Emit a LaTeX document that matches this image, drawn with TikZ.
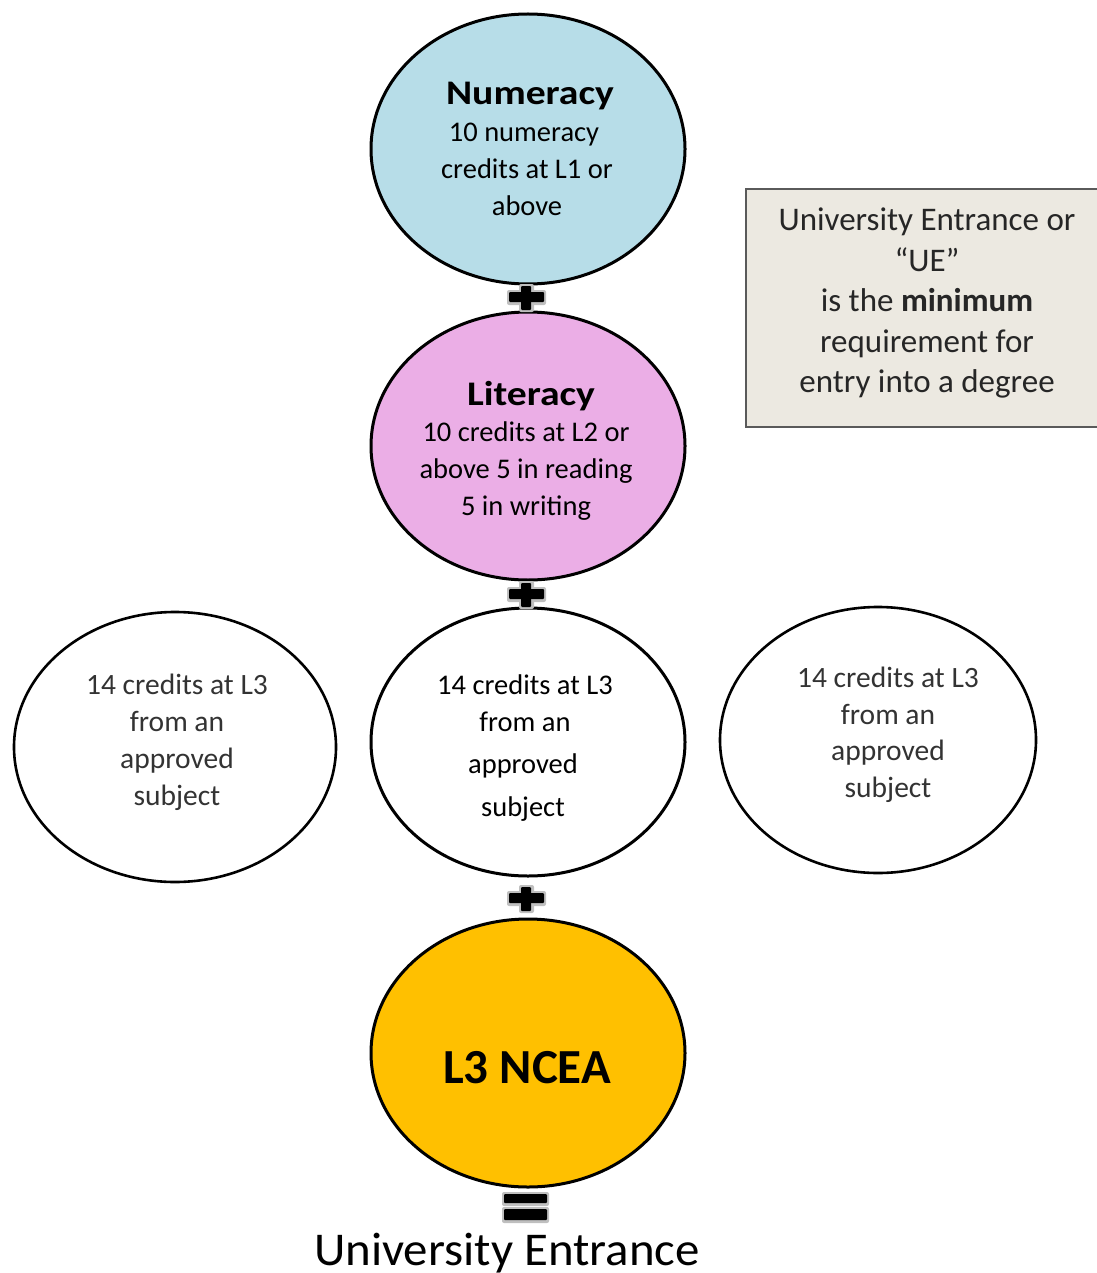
\documentclass[tikz,border=0pt]{standalone}
\usepackage{fontspec}
\setmainfont{Carlito}
\usetikzlibrary{shapes.geometric}
\definecolor{numblue}{HTML}{B7DDE8}
\definecolor{litpink}{HTML}{EBAEE6}
\definecolor{ncgold}{HTML}{FFC000}
\definecolor{boxfill}{HTML}{ECE9E1}
\definecolor{boxline}{HTML}{5A5A5A}
\definecolor{scantext}{HTML}{333333}
\tikzset{
  circ/.style={ellipse, draw=black, line width=3pt, minimum width=314pt, minimum height=268pt, inner sep=0pt},
  body/.style={align=center, font=\fontsize{28.5}{37}\selectfont, inner sep=0pt},
  side/.style={align=center, font=\fontsize{29.5}{37}\selectfont, text=scantext, inner sep=0pt},
  boxtext/.style={align=center, font=\fontsize{33}{40}\selectfont, text=black!85, inner sep=0pt},
  title/.style={inner sep=0pt, xscale=1.15, font=\fontsize{34.5}{40}\selectfont\bfseries},
  bar/.style={fill=black, rounded corners=1pt},
  barshadow/.style={fill=black!25, rounded corners=2pt}
}
\newcommand{\plussign}[2]{%
  \fill[barshadow] (#1-19,#2-7) rectangle (#1+20,#2+8);
  \fill[barshadow] (#1-7,#2-13) rectangle (#1+8,#2+15);
  \fill[bar] (#1-17,#2-5) rectangle (#1+18,#2+5);
  \fill[bar] (#1-5,#2-11) rectangle (#1+5,#2+13);
}
\begin{document}
\begin{tikzpicture}[x=1pt,y=-1pt]
\useasboundingbox (0,0) rectangle (1096,1273);
% ellipses
\node[circ, fill=numblue, minimum height=270pt] (num) at (528,149) {};
\node[circ, fill=litpink] (lit) at (528,446) {};
\node[circ, fill=white] (mid) at (528,742) {};
\node[circ, fill=white, minimum width=322pt, minimum height=270pt, line width=2.6pt] (left) at (175,747) {};
\node[circ, fill=white, minimum width=316pt, minimum height=266pt, line width=2.6pt] (right) at (878,740) {};
\node[circ, fill=ncgold] (ncea) at (528,1053) {};
% texts
\node[title, anchor=base] (numt) at (530,105) {Numeracy};
\node[body, anchor=base] (num1) at (524,142) {10 numeracy};
\node[body, anchor=base] (num2) at (527,179) {credits at L1 or};
\node[body, anchor=base] (num3) at (527,216) {above};
\node[title, anchor=base] (litt) at (531,405) {Literacy};
\node[body, anchor=base] (lit1) at (526,441) {10 credits at L2 or};
\node[body, anchor=base] (lit2) at (526,478) {above 5 in reading};
\node[body, anchor=base] (lit3) at (526,515) {5 in writing};
\node[body, anchor=base] (mid1) at (525,694) {14 credits at L3};
\node[body, anchor=base] (mid2) at (525,731) {from an};
\node[body, anchor=base] (mid3) at (523,773) {approved};
\node[body, anchor=base] (mid4) at (523,816) {subject};
\node[side, anchor=base] (l1) at (177,694) {14 credits at L3};
\node[side, anchor=base] (l2) at (177,731) {from an};
\node[side, anchor=base] (l3) at (177,768) {approved};
\node[side, anchor=base] (l4) at (177,805) {subject};
\node[side, anchor=base] (r1) at (888,687) {14 credits at L3};
\node[side, anchor=base] (r2) at (888,724) {from an};
\node[side, anchor=base] (r3) at (888,760) {approved};
\node[side, anchor=base] (r4) at (888,797) {subject};
\node[inner sep=0pt, anchor=base, font=\fontsize{49}{54}\selectfont\bfseries] (nceat) at (527,1083) {L3 NCEA};
% plus and equals
\plussign{526}{297}
\plussign{526}{594}
\plussign{526}{898}
\fill[barshadow] (502,1192) rectangle (549,1206);
\fill[barshadow] (502,1207) rectangle (549,1223);
\fill[bar] (504,1194) rectangle (547,1203);
\fill[bar] (504,1209) rectangle (547,1220);
\node[inner sep=0pt, anchor=base, xscale=1.04, font=\fontsize{47}{52}\selectfont] (ue) at (507,1265) {University Entrance};
% info box
\draw[fill=boxfill, draw=boxline, line width=2pt] (746,189) rectangle (1102,427);
\node[boxtext, anchor=base] (b1) at (927,231) {University Entrance or};
\node[boxtext, anchor=base] (b2) at (927,271) {“UE”};
\node[boxtext, anchor=base] (b3) at (927,311) {is the \textbf{minimum}};
\node[boxtext, anchor=base] (b4) at (927,352) {requirement for};
\node[boxtext, anchor=base] (b5) at (927,392) {entry into a degree};
\end{tikzpicture}
\end{document}
